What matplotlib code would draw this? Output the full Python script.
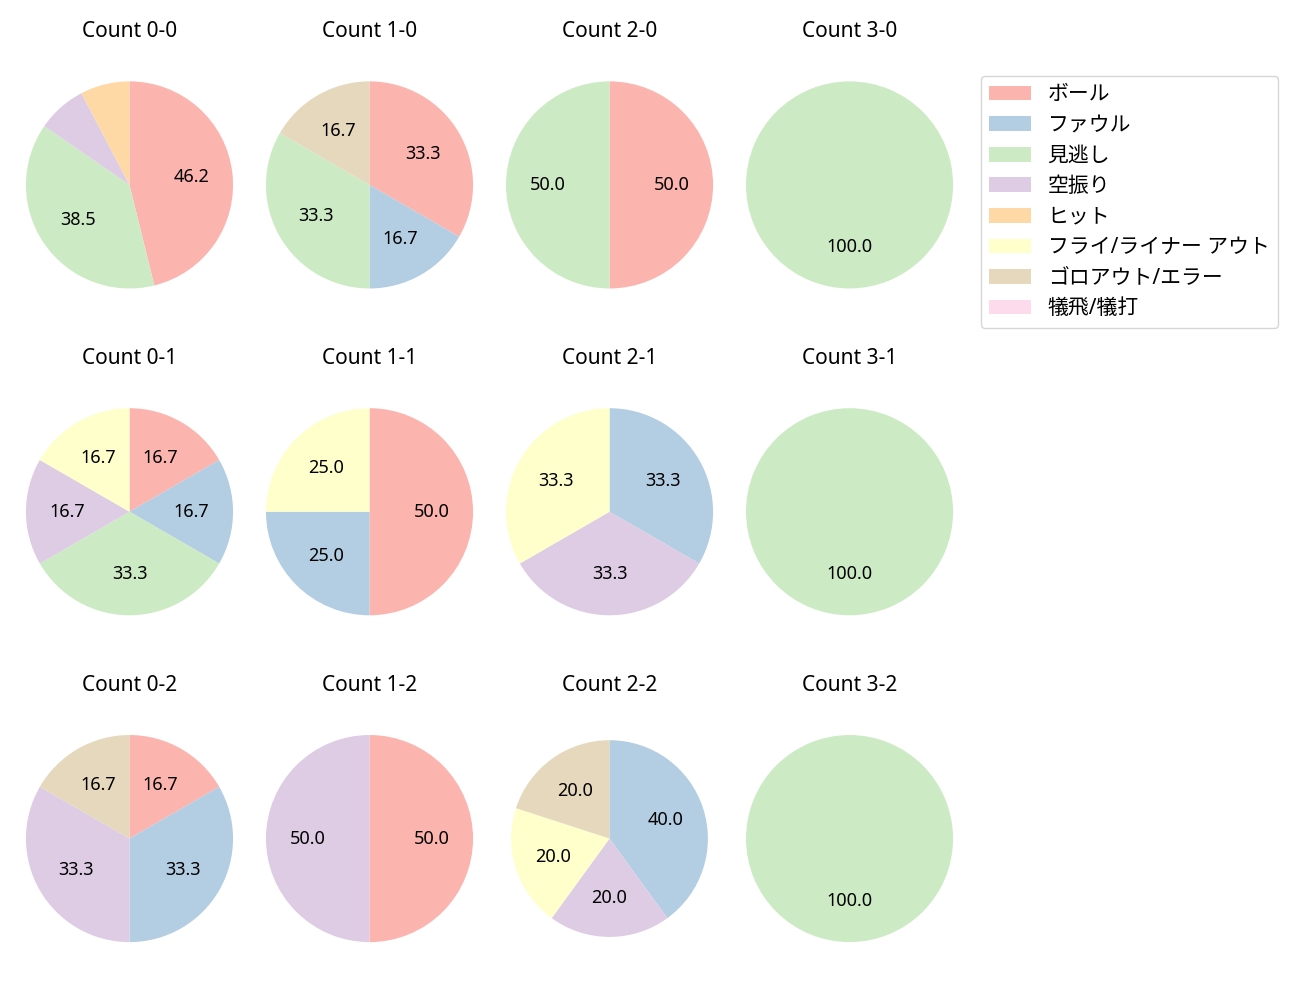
import matplotlib
matplotlib.use('Agg')
import matplotlib.pyplot as plt
from matplotlib.patches import Patch

plt.rcParams['font.family'] = ['Noto Sans', 'Noto Sans CJK JP', 'DejaVu Sans']

# result categories (legend order)
categories = ['ボール', 'ファウル', '見逃し', '空振り', 'ヒット',
              'フライ/ライナー アウト', 'ゴロアウト/エラー', '犠飛/犠打']

# pitch counts per ball-strike situation, same order as categories
count_00 = [6, 0, 5, 1, 1, 0, 0, 0]
count_10 = [2, 1, 2, 0, 0, 0, 1, 0]
count_20 = [1, 0, 1, 0, 0, 0, 0, 0]
count_30 = [0, 0, 1, 0, 0, 0, 0, 0]
count_01 = [1, 1, 2, 1, 0, 1, 0, 0]
count_11 = [2, 1, 0, 0, 0, 1, 0, 0]
count_21 = [0, 1, 0, 1, 0, 1, 0, 0]
count_31 = [0, 0, 1, 0, 0, 0, 0, 0]
count_02 = [1, 2, 0, 2, 0, 0, 1, 0]
count_12 = [1, 0, 0, 1, 0, 0, 0, 0]
count_22 = [0, 2, 0, 1, 0, 1, 1, 0]
count_32 = [0, 0, 1, 0, 0, 0, 0, 0]

rows = [
    [('0-0', count_00), ('1-0', count_10), ('2-0', count_20), ('3-0', count_30)],
    [('0-1', count_01), ('1-1', count_11), ('2-1', count_21), ('3-1', count_31)],
    [('0-2', count_02), ('1-2', count_12), ('2-2', count_22), ('3-2', count_32)],
]

colors = [plt.cm.Pastel1(i) for i in range(len(categories))]


def pct_label(p):
    return f'{p:.1f}' if p >= 10 else ''


fig, axes = plt.subplots(3, 4, figsize=(13, 10), dpi=100)
fig.subplots_adjust(left=0.0073, right=0.7458, top=0.945, bottom=0.0315,
                    wspace=0.0, hspace=0.2577)

for r, row in enumerate(rows):
    for c, (label, vals) in enumerate(row):
        ax = axes[r][c]
        radius = 0.95 if label == '2-2' else 1.0
        ax.pie(vals, colors=colors, startangle=90, counterclock=False,
               autopct=pct_label, radius=radius, textprops={'fontsize': 13})
        ax.set_xlim(-1.159, 1.159)
        ax.set_ylim(-1.159, 1.159)
        ax.set_aspect('equal')
        ax.set_title(f'Count {label}', fontsize=15, pad=20)

handles = [Patch(facecolor=col) for col in colors]
fig.legend(handles, categories, loc='upper left',
           bbox_to_anchor=(981 / 1300, 1 - 76 / 1000), borderaxespad=0,
           fontsize=15, labelspacing=0.46)

fig.savefig('out.png')
